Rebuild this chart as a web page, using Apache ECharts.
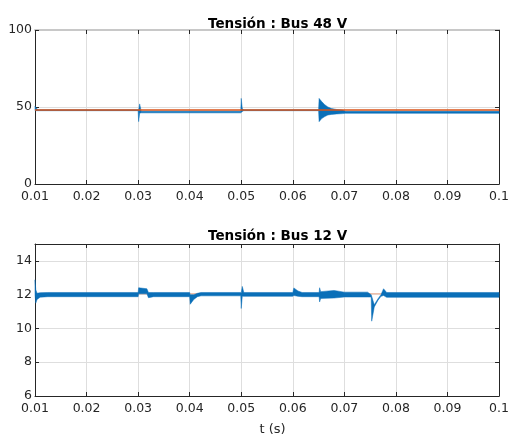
<!DOCTYPE html>
<html>
<head>
<meta charset="utf-8">
<script src="https://cdn.jsdelivr.net/npm/echarts@6/dist/echarts.min.js"></script>
<style>
  html, body { margin: 0; padding: 0; background: #fff; }
  #chart { width: 512px; height: 437px; }
</style>
</head>
<body>
<div id="chart"></div>
<script>
// time axis ticks
var xTicks = [0.01, 0.02, 0.03, 0.04, 0.05, 0.06, 0.07, 0.08, 0.09, 0.1]
var yTicks48 = [0, 50, 100]
var yTicks12 = [6, 8, 10, 12, 14]

// Bus 48 V : envelope (min / max) of the measured voltage
var t48 = [0.0100, 0.0102, 0.0106, 0.0300, 0.0301, 0.0303, 0.0306, 0.0499, 0.0500, 0.0502, 0.0505,
  0.0650, 0.0651, 0.0656, 0.0662, 0.0668, 0.0675, 0.0685, 0.0697, 0.0702, 0.1000]
var lo48 = [47.6, 47.6, 47.6, 47.6, 40.5, 46.0, 46.2, 46.2, 46.5, 47.0, 47.6,
  47.6, 40.5, 42.5, 43.8, 44.8, 45.2, 45.5, 45.7, 45.9, 45.9]
var hi48 = [50.5, 49.5, 48.2, 48.2, 48.0, 52.0, 47.3, 47.3, 55.6, 49.0, 48.2,
  48.2, 55.6, 53.5, 51.5, 50.0, 49.0, 48.4, 48.0, 47.2, 47.2]
// Bus 48 V : reference
var tRef = [0.01, 0.1]
var ref48 = [48, 48]

// Bus 12 V : envelope (min / max)
var t12 = [0.0100, 0.01015, 0.0104, 0.0110, 0.0125, 0.0300, 0.0301, 0.0317, 0.0320, 0.0330,
  0.0400, 0.0401, 0.0408, 0.0415, 0.0422, 0.0499, 0.0500, 0.0502, 0.0505, 0.0600,
  0.0602, 0.0610, 0.0618, 0.0651, 0.0652, 0.0654, 0.0680, 0.0700, 0.0745, 0.0752,
  0.0753, 0.0758, 0.0765, 0.0771, 0.0776, 0.0782, 0.1000]
var lo12 = [12.0, 11.5, 11.72, 11.85, 11.88, 11.88, 12.05, 12.05, 11.82, 11.88,
  11.88, 11.43, 11.72, 11.88, 11.93, 11.93, 11.18, 11.9, 11.9, 11.9,
  11.95, 11.9, 11.88, 11.88, 11.57, 11.78, 11.8, 11.86, 11.86, 11.86,
  10.43, 11.27, 11.66, 11.9, 11.95, 11.84, 11.84]
var hi12 = [12.88, 12.3, 12.08, 12.12, 12.13, 12.13, 12.41, 12.35, 12.13, 12.13,
  12.13, 12.0, 12.0, 12.08, 12.13, 12.13, 12.1, 12.49, 12.13, 12.13,
  12.4, 12.22, 12.13, 12.13, 12.41, 12.18, 12.25, 12.15, 12.15, 12.0,
  11.9, 11.4, 11.75, 12.0, 12.35, 12.13, 12.13]
var ref12 = [12.05, 12.05]

var FONT = 'DejaVu Sans'
var TXT = '#262626'
var BLUE = '#0a6fb8'

function fmtX(v) {
  return String(parseFloat(v.toFixed(2)))
}

function bottomX(gi) {
  return {
    type: 'value', gridIndex: gi, min: xTicks[0], max: xTicks[xTicks.length - 1], interval: 0.01,
    axisLine: { show: true, lineStyle: { color: TXT, width: 1 } },
    axisTick: { show: true, inside: true, length: 4, lineStyle: { color: TXT } },
    splitLine: { show: true, lineStyle: { color: '#dedede', width: 1 } },
    axisLabel: { color: TXT, fontFamily: FONT, fontSize: 12.5, margin: 6, formatter: fmtX }
  }
}
function topX(gi, color, width) {
  return {
    type: 'value', gridIndex: gi, position: 'top', min: xTicks[0], max: xTicks[xTicks.length - 1], interval: 0.01,
    axisLine: { show: true, onZero: false, lineStyle: { color: color, width: width } },
    axisTick: { show: true, inside: true, length: 4, lineStyle: { color: TXT } },
    splitLine: { show: false }, axisLabel: { show: false }
  }
}
function leftY(gi, ticks, max) {
  return {
    type: 'value', gridIndex: gi, min: ticks[0], max: max, interval: ticks[1] - ticks[0],
    axisLine: { show: true, lineStyle: { color: TXT, width: 1 } },
    axisTick: { show: true, inside: true, length: 4, lineStyle: { color: TXT } },
    splitLine: { show: true, lineStyle: { color: '#dedede', width: 1 } },
    axisLabel: { color: TXT, fontFamily: FONT, fontSize: 12.5, margin: 3, showMaxLabel: max === ticks[ticks.length - 1] }
  }
}
function rightY(gi, ticks, max) {
  return {
    type: 'value', gridIndex: gi, position: 'right', min: ticks[0], max: max, interval: ticks[1] - ticks[0],
    axisLine: { show: true, onZero: false, lineStyle: { color: TXT, width: 1 } },
    axisTick: { show: true, inside: true, length: 4, lineStyle: { color: TXT } },
    splitLine: { show: false }, axisLabel: { show: false }
  }
}

function band(xi, yi, t, lo, hi) {
  return {
    type: 'custom', xAxisIndex: xi, yAxisIndex: yi, z: 3,
    data: t.map(function(v, i) { return [v, lo[i], hi[i]] }),
    encode: { x: 0, y: [1, 2] },
    renderItem: function(params, api) {
      if (params.dataIndex !== 0) return
      var pts = []
      for (var i = 0; i < t.length; i++) pts.push(api.coord([t[i], hi[i]]))
      for (var j = t.length - 1; j >= 0; j--) pts.push(api.coord([t[j], lo[j]]))
      return {
        type: 'polygon',
        shape: { points: pts },
        style: { fill: BLUE, stroke: BLUE, lineWidth: 0.5 }
      }
    }
  }
}
function refLine(xi, yi, vals, color, z) {
  return {
    type: 'line', xAxisIndex: xi, yAxisIndex: yi, z: z,
    data: tRef.map(function(v, i) { return [v, vals[i]] }),
    symbol: 'none', lineStyle: { color: color, width: 1.5 }, animation: false
  }
}

var chart = echarts.init(document.getElementById('chart'))
var xBottom2 = bottomX(1)
xBottom2.name = 't (s)'
xBottom2.nameLocation = 'middle'
xBottom2.nameGap = 27
xBottom2.nameTextStyle = { color: TXT, fontFamily: FONT, fontSize: 13, padding: [0, 0, 0, 11] }

chart.setOption({
  backgroundColor: '#fff',
  animation: false,
  title: [
    { text: 'Tensión : Bus 48 V', left: 203, top: 12,
      textStyle: { fontFamily: FONT, fontWeight: 'bold', fontSize: 13.5, color: '#000' } },
    { text: 'Tensión : Bus 12 V', left: 203, top: 224,
      textStyle: { fontFamily: FONT, fontWeight: 'bold', fontSize: 13.5, color: '#000' } }
  ],
  grid: [
    { left: 35, right: 10, top: 30, height: 154 },
    { left: 35, right: 10, top: 244, height: 154 }
  ],
  xAxis: [bottomX(0), xBottom2, topX(0, '#c8c8c8', 2), topX(1, TXT, 1)],
  yAxis: [leftY(0, yTicks48, 100), leftY(1, yTicks12, 15), rightY(0, yTicks48, 100), rightY(1, yTicks12, 15)],
  series: [
    band(0, 0, t48, lo48, hi48),
    refLine(0, 0, ref48, '#D95319', 5),
    refLine(1, 1, ref12, '#efc0ab', 2),
    band(1, 1, t12, lo12, hi12)
  ]
})
</script>
</body>
</html>
